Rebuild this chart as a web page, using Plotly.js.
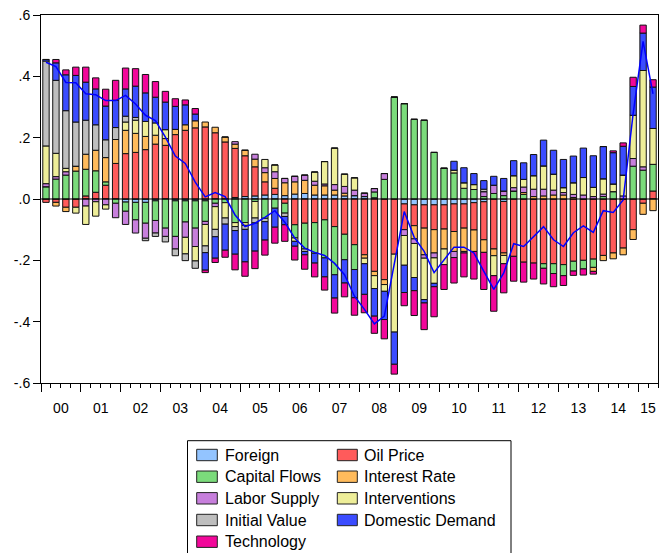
<!DOCTYPE html>
<html><head><meta charset="utf-8">
<script src="https://cdn.plot.ly/plotly-3.0.1.min.js"></script>
<style>html,body{margin:0;padding:0;background:#fff;}#chart{width:662px;height:553px;}</style>
</head><body><div id="chart"></div>
<script>
// ---- data (quarterly, 2000Q1 .. 2015Q2) ----
const firstYear = 2000;
const nQuarters = 62;
const yearLabels = ['00','01','02','03','04','05','06','07','08','09','10','11','12','13','14','15'];

const seriesNames = ['Foreign','Oil Price','Capital Flows','Interest Rate','Labor Supply','Interventions','Initial Value','Domestic Demand','Technology'];

const foreign = [0,0,0,0,0,0,0,0,-0.010,-0.011,
 -0.011,-0.006,0,-0.006,-0.006,-0.006,-0.006,0,0,0.005,
 0.008,0.010,0.013,0.015,0.011,0.016,0.018,0.013,0.013,0.013,
 0.010,0.011,0.008,0.004,0,0,-0.016,-0.019,-0.019,-0.019,
 -0.019,-0.016,-0.016,-0.012,-0.009,0,-0.008,0,0,0,
 0,0,0,0,0,0,0,0,0,0,
 0,0];
const oilPrice = [-0.011,-0.011,-0.027,-0.027,0.010,0.022,0.045,0.116,0.148,0.152,
 0.161,0.179,0.175,0.210,0.224,0.232,0.235,0.216,0.186,0.160,
 0.133,0.095,0.043,0.020,-0.014,-0.084,-0.079,-0.077,-0.068,-0.090,
 -0.115,-0.149,-0.182,-0.236,-0.263,-0.180,-0.084,-0.068,-0.076,-0.081,
 -0.079,-0.090,-0.079,-0.089,-0.124,-0.163,-0.168,-0.187,-0.206,-0.209,
 -0.211,-0.211,-0.214,-0.203,-0.200,-0.196,-0.184,-0.176,-0.160,-0.100,
 -0.014,0.026];
const capitalFlows = [0.040,0.065,0.078,0.091,0.087,0.070,0.011,-0.014,-0.030,-0.057,
 -0.068,-0.064,-0.095,-0.116,-0.069,-0.089,-0.067,-0.014,-0.012,-0.077,
 -0.077,-0.008,-0.063,-0.030,-0.032,-0.043,-0.084,-0.100,-0.124,-0.157,
 -0.083,-0.081,0,0.019,0.064,0.332,0.311,0.260,0.257,0.152,
 0.100,0.085,0.035,0.031,0.008,0.018,0.011,0.026,0.015,0,
 -0.015,-0.032,-0.036,-0.032,-0.028,-0.027,0.008,0.024,0,0.107,
 0.094,0.087];
const interestRate = [0,-0.012,-0.014,0.016,0.049,0.067,0.079,0.078,0.076,0.062,
 0.043,0.029,0.022,0.017,0.018,0.023,0.016,0.018,0.016,0.014,
 0.018,0.025,0.030,0.032,0.042,0.040,0.043,0.032,0.030,0.016,
 0.009,0,-0.011,-0.014,-0.016,0,0,-0.043,-0.087,-0.076,
 -0.065,-0.065,-0.076,-0.070,-0.041,-0.022,-0.008,0,0.006,0.008,
 0.010,0.013,0.013,0.005,0,-0.013,-0.017,-0.019,-0.022,-0.032,
 -0.036,-0.038];
const laborSupply = [0.010,0.008,0.011,0,-0.023,-0.009,-0.019,-0.047,-0.043,-0.043,
 -0.049,-0.041,-0.027,-0.041,-0.050,-0.060,-0.010,-0.011,0,0.008,
 0,0.016,0.016,0.022,0.014,0.018,0.017,0.013,0.006,0.018,
 0.022,0.018,0.011,0.011,0.019,0,-0.019,-0.015,-0.011,-0.016,
 0,-0.020,-0.005,0,0.016,0.027,0.015,0.011,0.018,0.024,
 0.022,0.016,0.008,0.010,0.013,0.008,0.008,0,0.010,0.025,
 0.011,0];
const interventions = [0.123,0.076,0.011,-0.019,-0.060,-0.047,-0.014,0,0.027,0.043,
 0.049,0.040,0.029,0,-0.054,-0.047,-0.070,-0.074,-0.050,-0.013,
 -0.009,-0.054,0.027,0.022,0,-0.011,0,0.030,0.073,0.119,
 0.040,0.040,-0.018,-0.042,-0.022,-0.254,-0.097,-0.111,-0.135,-0.083,
 -0.051,0.009,0.018,0.016,0,-0.065,-0.027,0.039,0.025,0.044,
 0.076,0.052,0.016,0.038,0.057,0.030,0.050,0.025,0.068,0.141,
 0.314,0.117];
const initialValue = [0.277,0.238,0.188,0.144,0.111,0.083,0.058,0.039,0.019,0.009,
 -0.008,-0.011,-0.018,-0.022,-0.022,-0.024,-0.022,-0.024,-0.020,-0.013,
 -0.013,-0.016,-0.011,0,-0.011,0,-0.008,0,0,0,
 0,0,0,0,0,0,0,0,0,0,
 0,0,0,0,0.008,0,0,0,0,0,
 0,0,0,0,0,0,0,0,0,0,
 0,0];
const domesticDemand = [0.005,0.057,0.117,0.152,0.124,0.117,0.110,0.089,0.089,0.102,
 0.093,0.084,0.090,0.075,0.065,0.022,-0.057,-0.070,-0.085,-0.077,
 -0.106,-0.092,-0.060,-0.062,-0.027,-0.016,-0.011,-0.032,-0.062,-0.076,
 -0.076,-0.092,-0.100,-0.090,-0.092,-0.105,-0.089,-0.043,-0.011,-0.011,
 0,0.029,0.049,0.036,0.028,0.029,0.041,0.049,0.054,0.069,
 0.084,0.078,0.092,0.087,0.096,0.103,0.105,0.102,0.094,0.094,
 0.122,0.135];
const technology = [0,0.011,0.016,0.027,0.049,0.036,0.055,0.065,0.068,0.057,
 0.060,0.051,0.035,0.025,0.016,0.018,-0.008,-0.014,-0.023,-0.051,
 -0.047,-0.057,-0.049,-0.052,-0.054,-0.045,-0.047,-0.045,-0.043,-0.049,
 -0.045,-0.057,-0.060,-0.056,-0.063,-0.032,-0.043,-0.081,-0.087,-0.098,
 -0.081,-0.083,-0.078,-0.090,-0.121,-0.116,-0.095,-0.081,-0.065,-0.052,
 -0.051,-0.043,-0.032,-0.014,-0.020,-0.009,0,0.006,0.011,0.030,
 0.026,0.024];
const actual = [0.446,0.432,0.380,0.379,0.343,0.340,0.321,0.321,0.338,0.310,
 0.273,0.256,0.202,0.140,0.116,0.055,0.007,0.021,0.008,-0.052,
 -0.090,-0.079,-0.060,-0.038,-0.076,-0.128,-0.160,-0.174,-0.184,-0.210,
 -0.247,-0.317,-0.360,-0.407,-0.382,-0.215,-0.041,-0.125,-0.171,-0.240,
 -0.198,-0.157,-0.157,-0.176,-0.236,-0.295,-0.241,-0.146,-0.155,-0.122,
 -0.090,-0.133,-0.155,-0.110,-0.088,-0.109,-0.038,-0.044,-0.003,0.278,
 0.514,0.343];

const seriesValues = [foreign, oilPrice, capitalFlows, interestRate, laborSupply, interventions, initialValue, domesticDemand, technology];
const seriesColors = ['#93C4FF','#FF5B5B','#7BDB7B','#FFBB5C','#C77FDC','#EEEE99','#BEBEBE','#3B4CFF','#F2079A'];

// ---- positions ----
const xq = Array.from({length:nQuarters},(_,i)=>i);
const xMin = -0.5, xMax = nQuarters - 0.5;
const labelPos = yearLabels.map((_,k)=>{
  const a = Math.max(4*k-0.5, xMin), b = Math.min(4*k+3.5, xMax);
  return (a+b)/2;
});
const yearBounds = yearLabels.map((_,k)=>4*k-0.5).filter(v=>v<xMax);

const traces = seriesValues.map((vals,k)=>({
  type:'bar', x:xq, y:vals, name:seriesNames[k],
  marker:{color:seriesColors[k], line:{color:'#111', width:1}},
  showlegend:false, hoverinfo:'skip'
}));
traces.push({
  type:'scatter', mode:'lines', x:xq, y:actual, xaxis:'x2', yaxis:'y',
  line:{color:'#0000FF', width:1.5}, showlegend:false, hoverinfo:'skip'
});

// plot area in pixels
const W=662, H=553, ML=41, MR=4, MT=15, MB=170;
const PW = W-ML-MR, PH = H-MT-MB;
const px = v => (v-ML)/PW;
const py = v => (H-MB-v)/PH;

const shapes = [
  {type:'line', xref:'paper', yref:'y', x0:0, x1:1, y0:0, y1:0, line:{color:'#000', width:1}, layer:'above'},
  {type:'rect', xref:'paper', yref:'paper', x0:px(187.5), x1:px(511), y0:py(440.7), y1:py(570), line:{color:'#000', width:1}, fillcolor:'rgba(0,0,0,0)'}
];
const annotations = [];
const colX = [[196.7,217.3,224],[337.3,357.3,362.5]];
const rowY = [455,476.7,498.3,520,541.7];
seriesNames.forEach((nm,k)=>{
  const c = k%2, r = Math.floor(k/2);
  const cy = rowY[r];
  shapes.push({type:'rect', xref:'paper', yref:'paper', x0:px(colX[c][0]), x1:px(colX[c][1]), y0:py(cy-5.7), y1:py(cy+5.7), line:{color:'#222', width:1}, fillcolor:seriesColors[k]});
  annotations.push({xref:'paper', yref:'paper', x:px(colX[c][2]), y:py(cy), xanchor:'left', yanchor:'middle', text:nm, showarrow:false, font:{size:16, color:'#000', family:'Liberation Sans, Arial, sans-serif'}, borderpad:0});
});

const layout = {
  width:W, height:H, margin:{l:ML, r:MR, t:MT, b:MB},
  paper_bgcolor:'#fff', plot_bgcolor:'#fff',
  barmode:'relative', bargap:0.36,
  font:{family:'Liberation Sans, Arial, sans-serif', color:'#000', size:14},
  xaxis:{range:[xMin,xMax], tickmode:'array', tickvals:labelPos, ticktext:yearLabels,
    ticks:'', showline:true, linecolor:'#000', linewidth:1, mirror:true, showgrid:false, zeroline:false,
    tickfont:{size:14}, ticklabelstandoff:12,
    minor:{tickmode:'linear', tick0:-0.5, dtick:1, ticks:'outside', ticklen:4, tickcolor:'#000', tickwidth:1, showgrid:false}},
  xaxis2:{range:[xMin,xMax], overlaying:'x', anchor:'y', side:'bottom', tickmode:'array', tickvals:yearBounds,
    ticks:'outside', ticklen:8, tickcolor:'#000', tickwidth:1, showticklabels:false, showline:false, showgrid:false, zeroline:false},
  yaxis:{range:[-0.6,0.6], tickmode:'array', tickvals:[-0.6,-0.4,-0.2,0,0.2,0.4,0.6],
    ticktext:['-.6','-.4','-.2','.0','.2','.4','.6'], ticks:'outside', ticklen:7, tickcolor:'#000',
    showline:true, linecolor:'#000', linewidth:1, mirror:true, showgrid:false, zeroline:false, tickfont:{size:14}},
  shapes:shapes, annotations:annotations
};
Plotly.newPlot('chart', traces, layout, {displayModeBar:false, staticPlot:true});
</script>
</body></html>
